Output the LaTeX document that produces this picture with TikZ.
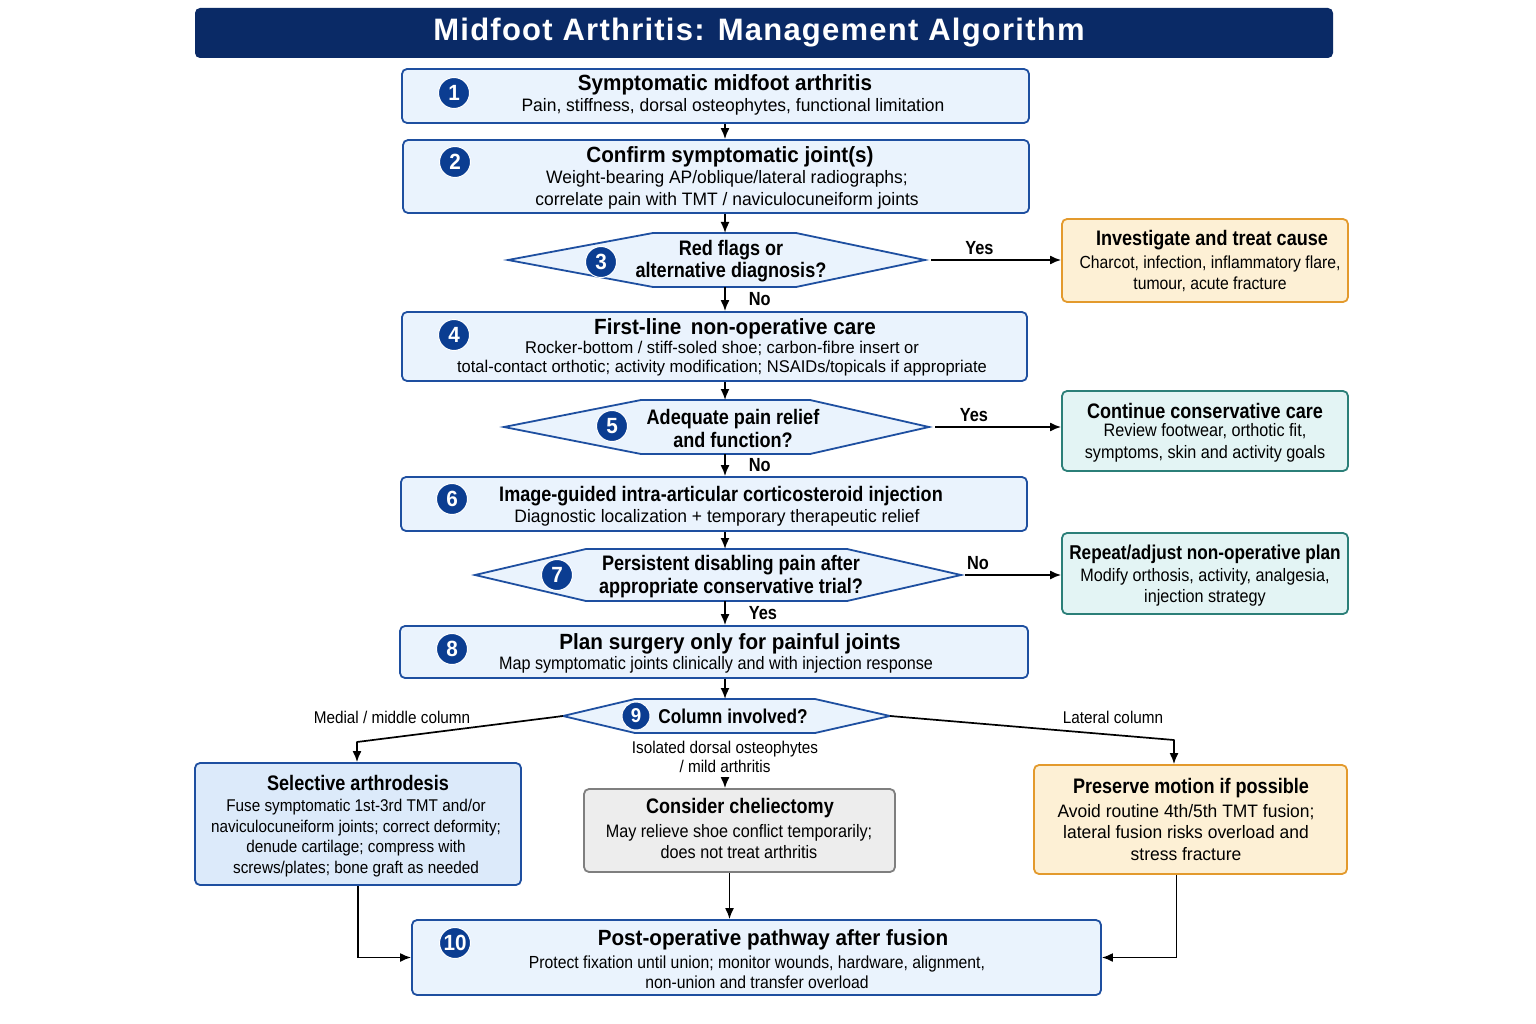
\documentclass[tikz,border=0pt]{standalone}
\usepackage{fontspec}
\setmainfont{Liberation Sans}[FakeStretch=0.97,BoldFeatures={FakeStretch=0.94}]
\newfontfamily\sidefont{Liberation Sans}[FakeStretch=0.90,BoldFeatures={FakeStretch=0.86}]
\newfontfamily\titlefont{Liberation Sans}[LetterSpace=4]
\usetikzlibrary{arrows.meta,calc}
\definecolor{navy}{HTML}{0A2A66}
\definecolor{mainline}{HTML}{1E4FA0}
\definecolor{mainfill}{HTML}{EAF3FD}
\definecolor{badgefill}{HTML}{0B3D91}
\definecolor{orline}{HTML}{E39A2D}
\definecolor{orfill}{HTML}{FDF0D5}
\definecolor{tealline}{HTML}{2B7F78}
\definecolor{tealfill}{HTML}{E3F4F4}
\definecolor{selfill}{HTML}{DCEAFA}
\definecolor{grayline}{HTML}{7F7F7F}
\definecolor{grayfill}{HTML}{EDEDED}
\tikzset{
  mainbox/.style={draw=mainline, fill=mainfill, line width=1.8pt, rounded corners=5pt, inner sep=0pt},
  orbox/.style={mainbox, draw=orline, fill=orfill},
  tealbox/.style={mainbox, draw=tealline, fill=tealfill},
  selbox/.style={mainbox, fill=selfill},
  graybox/.style={mainbox, draw=grayline, fill=grayfill},
  hexa/.style={draw=mainline, fill=mainfill, line width=1.8pt, line join=miter},
  badge/.style={circle, fill=badgefill, draw=white, line width=1pt, text=white, minimum size=31pt, inner sep=0pt, font=\bfseries\fontsize{22}{22}\selectfont},
  ttl/.style={font=\bfseries\fontsize{22}{24}\selectfont, inner sep=0pt},
  sub/.style={font=\fontsize{18}{22}\selectfont, align=center, inner sep=0pt},
  sidettl/.style={font=\sidefont\bfseries\fontsize{21}{24}\selectfont, inner sep=0pt},
  sidesub/.style={font=\sidefont\fontsize{18}{21.5}\selectfont, align=center, inner sep=0pt},
  qtxt/.style={font=\sidefont\bfseries\fontsize{21}{22.5}\selectfont, align=center, inner sep=0pt},
  lbl/.style={font=\sidefont\bfseries\fontsize{19}{19}\selectfont, inner sep=1pt},
  brlbl/.style={font=\sidefont\fontsize{17}{19}\selectfont, align=center, inner sep=1pt},
  arr/.style={-{Latex[length=11pt,width=9pt]}, line width=1.7pt, black}
}
\begin{document}
\begin{tikzpicture}[x=1pt,y=-1pt]
  \useasboundingbox[fill=white] (0,0) rectangle (1536,1024);
  \coordinate (axis) at (725,0);
  % title bar
  \node[fill=navy, rounded corners=5pt, minimum width=1138pt, minimum height=50pt] (titlebar) at (764,33) {};
  \node[text=white, font=\titlefont\bfseries\fontsize{31}{31}\selectfont] (titletext) at (759,33) {Midfoot Arthritis: Management Algorithm};
  % main boxes
  \node[mainbox, minimum width=627pt, minimum height=54pt] (b1) at (715.5,96) {};
  \node[mainbox, minimum width=626pt, minimum height=73pt] (b2) at (716,176.5) {};
  \node[mainbox, minimum width=625pt, minimum height=69pt] (b4) at (714.5,346.5) {};
  \node[mainbox, minimum width=626pt, minimum height=54pt] (b6) at (714,504) {};
  \node[mainbox, minimum width=628pt, minimum height=52pt] (b8) at (714,652) {};
  \node[mainbox, minimum width=689pt, minimum height=75pt] (b10) at (756.5,957.5) {};
  % side boxes
  \node[orbox, minimum width=286pt, minimum height=83pt] (inv) at (1205,260.5) {};
  \node[tealbox, minimum width=286pt, minimum height=80pt] (cont) at (1205,431) {};
  \node[tealbox, minimum width=286pt, minimum height=81pt] (rep) at (1205,573.5) {};
  \node[selbox, minimum width=326pt, minimum height=122pt] (sel) at (358,824) {};
  \node[graybox, minimum width=311pt, minimum height=83pt] (che) at (739.5,830.5) {};
  \node[orbox, minimum width=313pt, minimum height=109pt] (pre) at (1190.5,819.5) {};
  % decision hexagons
  \coordinate (d3l) at (508,260);  \coordinate (d3r) at (925,260);
  \coordinate (d3t) at (725,233);  \coordinate (d3b) at (725,287);
  \draw[hexa] (d3l) -- (653,233) -- (796,233) -- (d3r) -- (796,287) -- (653,287) -- cycle;
  \coordinate (d5l) at (504,427);  \coordinate (d5r) at (929,427);
  \coordinate (d5t) at (725,400);  \coordinate (d5b) at (725,454);
  \draw[hexa] (d5l) -- (641,400) -- (810,400) -- (d5r) -- (810,454) -- (641,454) -- cycle;
  \coordinate (d7l) at (475,575);  \coordinate (d7r) at (961,575);
  \coordinate (d7t) at (725,549);  \coordinate (d7b) at (725,601);
  \draw[hexa] (d7l) -- (586,549) -- (847,549) -- (d7r) -- (847,601) -- (586,601) -- cycle;
  \coordinate (d9l) at (563,716);  \coordinate (d9r) at (890,716);
  \coordinate (d9t) at (725,699);  \coordinate (d9b) at (725,733);
  \draw[hexa] (d9l) -- (635,699) -- (815,699) -- (d9r) -- (815,733) -- (635,733) -- cycle;
  % badges
  \node[badge] (n1) at (454,93) {1};
  \node[badge] (n2) at (455,162) {2};
  \node[badge] (n3) at (601,262) {3};
  \node[badge] (n4) at (454,335) {4};
  \node[badge] (n5) at (612,426) {5};
  \node[badge] (n6) at (452,499) {6};
  \node[badge] (n7) at (557,575) {7};
  \node[badge] (n8) at (452,649) {8};
  \node[badge, minimum size=28pt, font=\bfseries\fontsize{20}{20}\selectfont] (n9) at (636,716) {9};
  \node[badge] (n10) at (455,943) {10};
  % box texts
  \node[ttl] (t1) at (725,85) {Symptomatic midfoot arthritis};
  \node[sub] (s1) at (733,107) {Pain, stiffness, dorsal osteophytes, functional limitation};
  \node[ttl] (t2) at (730,157) {Confirm symptomatic joint(s)};
  \node[sub] (s2) at (727,190) {Weight-bearing AP/oblique/lateral radiographs;\\correlate pain with TMT / naviculocuneiform joints};
  \node[qtxt] (q3) at (731,261) {Red flags or\\alternative diagnosis?};
  \node[ttl] (t4) at (735,329) {First-line\, non-operative care};
  \node[sub, font=\fontsize{17}{19.5}\selectfont] (s4) at (722,358.5) {Rocker-bottom / stiff-soled shoe; carbon-fibre insert or\\total-contact orthotic; activity modification; NSAIDs/topicals if appropriate};
  \node[qtxt] (q5) at (733,428.5) {Adequate pain relief\\and function?};
  \node[ttl, font=\sidefont\bfseries\fontsize{21}{24}\selectfont] (t6) at (721,496) {Image-guided intra-articular corticosteroid injection};
  \node[sub] (s6) at (717,518) {Diagnostic localization + temporary therapeutic relief};
  \node[qtxt] (q7) at (731,576.5) {Persistent disabling pain after\\appropriate conservative trial?};
  \node[ttl] (t8) at (730,644) {Plan surgery only for painful joints};
  \node[sub, font=\sidefont\fontsize{18}{22}\selectfont] (s8) at (716,665) {Map symptomatic joints clinically and with injection response};
  \node[qtxt, font=\sidefont\bfseries\fontsize{20}{22}\selectfont] (q9) at (733,716) {Column involved?};
  \node[sidettl] (ti) at (1212,240) {Investigate and treat cause};
  \node[sidesub, font=\sidefont\fontsize{17.5}{21.5}\selectfont] (si) at (1210,274) {Charcot, infection, inflammatory flare,\\tumour, acute fracture};
  \node[sidettl] (tc) at (1205,411) {Continue conservative care};
  \node[sidesub] (sc) at (1205,443) {Review footwear, orthotic fit,\\symptoms, skin and activity goals};
  \node[sidettl, font=\sidefont\bfseries\fontsize{20}{24}\selectfont] (tr) at (1205,554) {Repeat/adjust non-operative plan};
  \node[sidesub] (sr) at (1205,587.5) {Modify orthosis, activity, analgesia,\\injection strategy};
  \node[sidettl] (tsel) at (358,783) {Selective arthrodesis};
  \node[sidesub, font=\sidefont\fontsize{17}{20.7}\selectfont] (ssel) at (356,838) {Fuse symptomatic 1st-3rd TMT and/or\\naviculocuneiform joints; correct deformity;\\denude cartilage; compress with\\screws/plates; bone graft as needed};
  \node[sidettl] (tche) at (740,808) {Consider cheliectomy};
  \node[sidesub] (sche) at (739,841.5) {May relieve shoe conflict temporarily;\\does not treat arthritis};
  \node[sidettl] (tpre) at (1191,788) {Preserve motion if possible};
  \node[sub, font=\fontsize{18}{21.5}\selectfont] (spre) at (1186,832.5) {Avoid routine 4th/5th TMT fusion;\\lateral fusion risks overload and\\stress fracture};
  \node[ttl] (t10) at (773,940) {Post-operative pathway after fusion};
  \node[sidesub, font=\sidefont\fontsize{17.5}{20.5}\selectfont] (s10) at (757,972) {Protect fixation until union; monitor wounds, hardware, alignment,\\non-union and transfer overload};
  % main flow
  \draw[arr] (b1.south -| axis) -- (b2.north -| axis);
  \draw[arr] (b2.south -| axis) -- (d3t);
  \draw[arr] (d3b) -- (b4.north -| axis) node[lbl, midway, right=22pt] (no3) {No};
  \draw[arr] (b4.south -| axis) -- (d5t);
  \draw[arr] (d5b) -- (b6.north -| axis) node[lbl, midway, right=22pt] (no5) {No};
  \draw[arr] (b6.south -| axis) -- (d7t);
  \draw[arr] (d7b) -- (b8.north -| axis) node[lbl, midway, right=22pt] (yes7) {Yes};
  \draw[arr] (b8.south -| axis) -- (d9t);
  % side branches
  \draw[arr, shorten <=6pt] (d3r) -- (d3r -| inv.west) node[lbl, pos=0.4, above=3pt] (yes3) {Yes};
  \draw[arr, shorten <=6pt] (d5r) -- (d5r -| cont.west) node[lbl, pos=0.34, above=3pt] (yes5) {Yes};
  \draw[arr, shorten <=4pt] (d7r) -- (d7r -| rep.west) node[lbl, pos=0.17, above=3pt] (no7) {No};
  % column branches
  \coordinate (selknee) at (357,742);
  \coordinate (preknee) at (1174,740);
  \draw[arr, line join=round] (d9l) -- (selknee) -- (selknee |- sel.north);
  \draw[arr, line join=round] (d9r) -- (preknee) -- (preknee |- pre.north);
  \node[brlbl] (lmed) at (392,717) {Medial / middle column};
  \node[brlbl] (llat) at (1113,717) {Lateral column};
  \draw[arr, shorten <=8pt] (d9b) -- (che.north -| axis) node[brlbl, fill=white, inner ysep=4pt, pos=0.44] (liso) {Isolated dorsal osteophytes\\ / mild arthritis};
  % to post-operative pathway
  \draw[arr] (sel.south) |- (b10.west);
  \draw[arr] (che.south -| b10.north) ++(-27,0) coordinate (chefoot) -- (chefoot |- b10.north);
  \draw[arr] ([xshift=-14pt]pre.south) |- (b10.east);
\end{tikzpicture}
\end{document}
